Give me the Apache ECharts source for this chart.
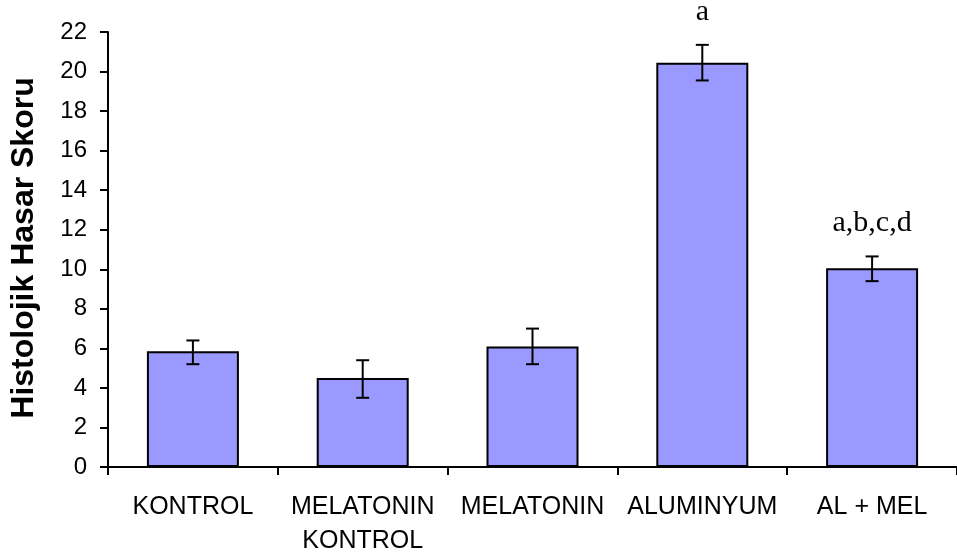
<!DOCTYPE html>
<html>
<head>
<meta charset="utf-8">
<script src="https://cdn.jsdelivr.net/npm/echarts@6/dist/echarts.min.js"></script>
<style>
  html, body { margin: 0; padding: 0; background: #fff; }
  #main { width: 957px; height: 558px; }
</style>
</head>
<body>
<div id="main"></div>
<script>
// gruplar
const categories = ["KONTROL", "MELATONIN\nKONTROL", "MELATONIN", "ALUMINYUM", "AL + MEL"];
// ortalama skorlar
const means = [5.85, 4.5, 6.1, 20.45, 10.05];
// hata çubukları (alt / üst)
const errLow = [5.2, 3.5, 5.2, 19.55, 9.4];
const errHigh = [6.4, 5.4, 7.0, 21.35, 10.65];
// anlamlılık harfleri
const marks = ["", "", "", "a", "a,b,c,d"];
const yMin = 0;
const yMax = 22;
const yStep = 2;

const chart = echarts.init(document.getElementById("main"));

const option = {
  animation: false,
  grid: {
    left: 108,
    right: -9,
    top: 32,
    bottom: 89,
  },
  xAxis: {
    type: "category",
    data: categories,
    axisLine: { show: true, lineStyle: { color: "#000", width: 2 } },
    axisTick: { show: true, length: 8, lineStyle: { color: "#000", width: 2 } },
    axisLabel: {
      color: "#000",
      fontFamily: "Liberation Sans",
      fontSize: 25,
      lineHeight: 34,
      margin: 23,
      interval: 0,
    },
  },
  yAxis: {
    type: "value",
    min: yMin,
    max: yMax,
    interval: yStep,
    axisLine: { show: true, lineStyle: { color: "#000", width: 2 } },
    axisTick: { show: true, length: 8, lineStyle: { color: "#000", width: 2 } },
    splitLine: { show: false },
    axisLabel: {
      color: "#000",
      fontFamily: "Liberation Sans",
      fontSize: 24,
      margin: 21,
    },
  },
  graphic: [
    {
      type: "text",
      x: 24,
      y: 248,
      rotation: Math.PI / 2,
      style: {
        text: "Histolojik Hasar Skoru",
        font: 'bold 32px "Liberation Sans"',
        fill: "#000",
        textAlign: "center",
        textVerticalAlign: "middle",
      },
    },
  ],
  series: [
    {
      type: "bar",
      data: means,
      barWidth: 92,
      itemStyle: {
        color: "#9999ff",
        borderColor: "#000",
        borderWidth: 2,
      },
    },
    {
      type: "custom",
      data: categories.map((c, i) => [i, errLow[i], errHigh[i]]),
      z: 10,
      renderItem: (params, api) => {
        const i = api.value(0);
        const lo = api.coord([i, api.value(1)]);
        const hi = api.coord([i, api.value(2)]);
        const half = 6.5;
        const style = { stroke: "#000", lineWidth: 2 };
        const children = [
          { type: "line", shape: { x1: hi[0], y1: hi[1], x2: lo[0], y2: lo[1] }, style },
          { type: "line", shape: { x1: hi[0] - half, y1: hi[1], x2: hi[0] + half, y2: hi[1] }, style },
          { type: "line", shape: { x1: lo[0] - half, y1: lo[1], x2: lo[0] + half, y2: lo[1] }, style },
        ];
        const txt = marks[params.dataIndex];
        if (txt) {
          children.push({
            type: "text",
            x: hi[0],
            y: hi[1] - 33,
            style: {
              text: txt,
              font: '30px "Liberation Serif"',
              fill: "#000",
              textAlign: "center",
              textVerticalAlign: "middle",
            },
          });
        }
        return { type: "group", children };
      },
    },
  ],
};

option && chart.setOption(option);
</script>
</body>
</html>
